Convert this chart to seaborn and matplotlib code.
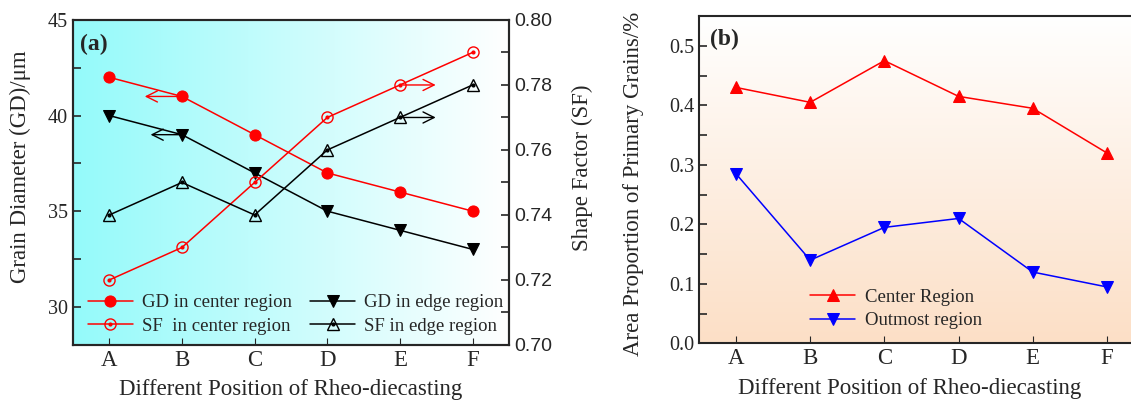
import numpy as np
import pandas as pd
import matplotlib
matplotlib.use("Agg")
import matplotlib.pyplot as plt
import seaborn as sns
from matplotlib.colors import LinearSegmentedColormap
from matplotlib.ticker import MultipleLocator

# données
positions = ["A", "B", "C", "D", "E", "F"]
gd_center = [42, 41, 39, 37, 36, 35]
gd_edge = [40, 39, 37, 35, 34, 33]
sf_center = [0.72, 0.73, 0.75, 0.77, 0.78, 0.79]
sf_edge = [0.74, 0.75, 0.74, 0.76, 0.77, 0.78]
area_center = [0.43, 0.405, 0.475, 0.415, 0.395, 0.32]
area_outmost = [0.285, 0.14, 0.195, 0.21, 0.12, 0.095]

sns.set_style("ticks")
plt.rcParams['font.family'] = ['Liberation Serif', 'DejaVu Serif']

x = np.arange(len(positions))
df_a = pd.DataFrame({"x": x, "gd_c": gd_center, "gd_e": gd_edge,
                     "sf_c": sf_center, "sf_e": sf_edge})
df_b = pd.DataFrame({"x": x, "center": area_center, "outmost": area_outmost})

fig = plt.figure(figsize=(11.31, 4.01), dpi=100)
ax = fig.add_axes([0.0645, 0.1397, 0.3855, 0.8105])
axb = fig.add_axes([0.618, 0.1434, 0.3935, 0.8167])

# fonds en dégradé
cyan = LinearSegmentedColormap.from_list("cy", ["#94fafa", "#ffffff"])
peach = LinearSegmentedColormap.from_list("pe", ["#ffffff", "#fcdfc6"])
ax.imshow(np.linspace(0, 1, 256)[None, :], cmap=cyan, aspect="auto",
          extent=[0, 1, 0, 1], transform=ax.transAxes, zorder=0)
axb.imshow(np.linspace(0, 1, 256)[:, None], cmap=peach, aspect="auto",
           extent=[0, 1, 0, 1], transform=axb.transAxes, zorder=0)

ax2 = ax.twinx()

# (a) diamètre des grains
sns.lineplot(data=df_a, x="x", y="gd_c", ax=ax, color="red", marker="o",
             markersize=8, markeredgecolor="red", linewidth=1.1)
sns.lineplot(data=df_a, x="x", y="gd_e", ax=ax, color="black", marker="v",
             markersize=8, markeredgecolor="black", linewidth=1.1)
# facteur de forme
sns.lineplot(data=df_a, x="x", y="sf_c", ax=ax2, color="red", marker="o",
             markersize=8, markerfacecolor="none", markeredgecolor="red",
             markeredgewidth=1.0, linewidth=1.1)
sns.lineplot(data=df_a, x="x", y="sf_e", ax=ax2, color="black", marker="^",
             markersize=8, markerfacecolor="none", markeredgecolor="black",
             markeredgewidth=1.0, linewidth=1.1)
dot_c, = ax2.plot(x, sf_center, ls="none", marker="o", ms=2, color="red")
dot_e, = ax2.plot(x, sf_edge, ls="none", marker="o", ms=2, color="black")

ax.set_xlim(-0.5, 5.5)
ax.set_ylim(28, 45)
ax2.set_ylim(0.70, 0.80)
ax.set_xticks(x)
ax.set_xticklabels(positions, fontsize=16.5)
ax.set_yticks([30, 35, 40, 45])
ax.yaxis.set_minor_locator(MultipleLocator(2.5))
ax.tick_params(axis="y", which="both", labelsize=14.5, direction="in",
               length=6, width=1.2)
ax.tick_params(axis="x", direction="in", length=5)
ax2.yaxis.set_major_locator(MultipleLocator(0.02))
ax2.yaxis.set_minor_locator(MultipleLocator(0.01))
ax2.tick_params(axis="y", which="both", direction="in", length=6, width=1.2)
ax2.set_yticks(ax2.get_yticks())
ax2.set_yticklabels([f"{v:.2f}" for v in ax2.get_yticks()],
                    family="Liberation Sans", fontsize=14)
ax2.set_ylim(0.70, 0.80)
ax.set_xlabel("Different Position of Rheo-diecasting", fontsize=16.5)
ax.set_ylabel("Grain Diameter (GD)/μm", fontsize=16.5)
ax.yaxis.set_label_coords(-0.097, 0.55)
ax.xaxis.set_label_coords(0.5, -0.105)
ax2.set_ylabel("Shape Factor (SF)", fontsize=16.5, rotation=90)
ax2.yaxis.set_label_coords(1.144, 0.545)
for sp in list(ax.spines.values()) + list(ax2.spines.values()):
    sp.set_linewidth(1.5)
ax.text(0.016, 0.925, "(a)", transform=ax.transAxes, fontsize=17,
        fontweight="bold", va="center")

# flèches
ax.annotate("", xy=(0.45, 41), xytext=(1.0, 41),
            arrowprops=dict(arrowstyle="->", color="red", lw=1.0,
                            mutation_scale=20))
ax.annotate("", xy=(0.53, 39), xytext=(1.0, 39),
            arrowprops=dict(arrowstyle="->", color="black", lw=1.0,
                            mutation_scale=20))
ax2.annotate("", xy=(4.53, 0.78), xytext=(4.0, 0.78),
             arrowprops=dict(arrowstyle="->", color="red", lw=1.0,
                             mutation_scale=20))
ax2.annotate("", xy=(4.53, 0.77), xytext=(4.0, 0.77),
             arrowprops=dict(arrowstyle="->", color="black", lw=1.0,
                             mutation_scale=20))

h = ax.get_lines()[:2] + ax2.get_lines()[:2]
handles = [h[0], (h[2], dot_c), h[1], (h[3], dot_e)]
labels = ["GD in center region", "SF  in center region",
          "GD in edge region", "SF in edge region"]
if ax2.get_legend():
    ax2.get_legend().remove()
ax2.legend(handles, labels, ncol=2, loc="lower left",
           bbox_to_anchor=(0.017, 0.008), borderaxespad=0, frameon=False,
           fontsize=13.5, handlelength=2.4, handletextpad=0.5,
           columnspacing=0.95, labelspacing=0.35)

# (b) proportion surfacique
sns.lineplot(data=df_b, x="x", y="center", ax=axb, color="red", marker="^",
             markersize=9, markeredgecolor="red", linewidth=1.1,
             label="Center Region")
sns.lineplot(data=df_b, x="x", y="outmost", ax=axb, color="blue", marker="v",
             markersize=9, markeredgecolor="blue", linewidth=1.1,
             label="Outmost region")
axb.set_xlim(-0.5, 5.5)
axb.set_ylim(0, 0.55)
axb.set_xticks(x)
axb.set_xticklabels(positions, fontsize=16.5)
axb.yaxis.set_minor_locator(MultipleLocator(0.05))
axb.set_yticks(np.arange(0, 0.55, 0.1))
axb.set_yticklabels([f"{v:.1f}" for v in np.arange(0, 0.55, 0.1)])
axb.tick_params(axis="y", which="both", direction="in", labelsize=14.5,
                length=6, width=1.2)
axb.tick_params(axis="x", direction="in", length=5)
axb.set_xlabel("Different Position of Rheo-diecasting", fontsize=16.5)
axb.xaxis.set_label_coords(0.474, -0.105)
axb.set_ylabel("Area Proportion of Primary Grains/%", fontsize=16.5)
axb.yaxis.set_label_coords(-0.124, 0.486)
for sp in axb.spines.values():
    sp.set_linewidth(1.5)
axb.text(0.025, 0.927, "(b)", transform=axb.transAxes, fontsize=17,
         fontweight="bold", va="center")
axb.legend(loc="lower left", bbox_to_anchor=(0.233, 0.02), borderaxespad=0,
           frameon=False, fontsize=13.5, handlelength=2.4, handletextpad=0.5,
           labelspacing=0.35)

plt.savefig("out.png", dpi=100)
